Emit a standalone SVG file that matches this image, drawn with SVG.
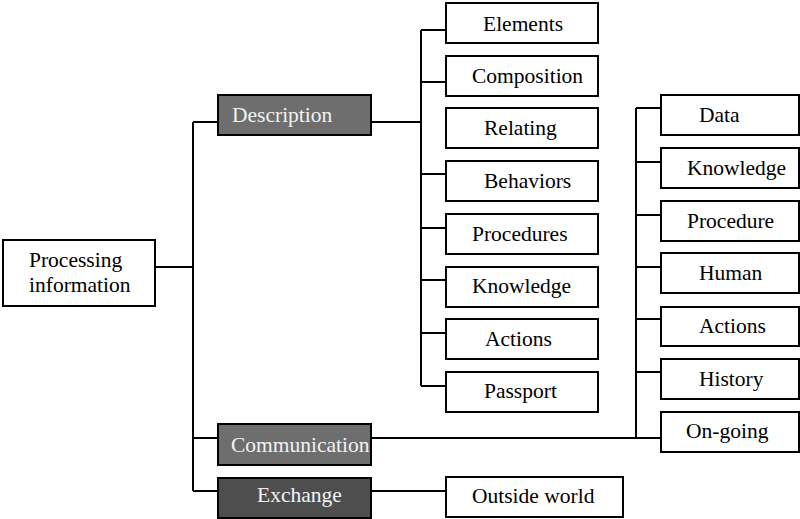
<svg xmlns="http://www.w3.org/2000/svg" width="800" height="519" viewBox="0 0 800 519">
<style>
.b{fill:#fff;stroke:#000;stroke-width:2}
.g1{fill:#6e6e6e;stroke:#000;stroke-width:2}
.g2{fill:#4e4e4e;stroke:#000;stroke-width:2}
text{font-family:'Liberation Serif','Times New Roman',Times,'DejaVu Serif',serif;font-size:21.5px;fill:#000}
.w{fill:#f2f2f2}
.c{fill:none;stroke:#000;stroke-width:2}
</style>
<rect width="800" height="519" fill="#fff"/>
<g id="connectors">
<path class="c" d="M155 267H193M193 122V491M193 122H218M193 438H218M193 491H218"/>
<path class="c" d="M371 122H421M421 30V386M421 30H446M421 82H446M421 174H446M421 228H446M421 280H446M421 333H446M421 386H446"/>
<path class="c" d="M371 438H648M636 108V438M636 108H661M636 162H661M636 215H661M636 267H661M636 319H661M636 372H661M636 438H661"/>
<path class="c" d="M371 491H446"/>
</g>
<g id="processing"><rect class="b" x="3" y="240" width="152" height="66"/><text x="29" y="267">Processing</text><text x="29" y="292">information</text></g>
<g id="description"><rect class="g1" x="218" y="95" width="153" height="40"/><text class="w" x="232" y="122">Description</text></g>
<g id="communication"><rect class="g1" x="218" y="424" width="153" height="41"/><text class="w" x="231" y="452">Communication</text></g>
<g id="exchange"><rect class="g2" x="218" y="478" width="153" height="40"/><text class="w" x="257" y="502">Exchange</text></g>
<g id="elements"><rect class="b" x="446" y="3" width="152" height="40"/><text x="483" y="31">Elements</text></g>
<g id="composition"><rect class="b" x="446" y="56" width="152" height="40"/><text x="472" y="83">Composition</text></g>
<g id="relating"><rect class="b" x="446" y="108" width="152" height="40"/><text x="484" y="135">Relating</text></g>
<g id="behaviors"><rect class="b" x="446" y="161" width="152" height="40"/><text x="484" y="188">Behaviors</text></g>
<g id="procedures"><rect class="b" x="446" y="214" width="152" height="40"/><text x="472" y="241">Procedures</text></g>
<g id="knowledge1"><rect class="b" x="446" y="267" width="152" height="40"/><text x="472" y="293">Knowledge</text></g>
<g id="actions1"><rect class="b" x="446" y="319" width="152" height="40"/><text x="485" y="346">Actions</text></g>
<g id="passport"><rect class="b" x="446" y="372" width="152" height="40"/><text x="484" y="398">Passport</text></g>
<g id="data"><rect class="b" x="661" y="95" width="138" height="40"/><text x="699" y="122">Data</text></g>
<g id="knowledge2"><rect class="b" x="661" y="148" width="138" height="40"/><text x="687" y="175">Knowledge</text></g>
<g id="procedure"><rect class="b" x="661" y="201" width="138" height="40"/><text x="687" y="228">Procedure</text></g>
<g id="human"><rect class="b" x="661" y="253" width="138" height="40"/><text x="699" y="280">Human</text></g>
<g id="actions2"><rect class="b" x="661" y="307" width="138" height="39"/><text x="699" y="333">Actions</text></g>
<g id="history"><rect class="b" x="661" y="359" width="138" height="40"/><text x="699" y="386">History</text></g>
<g id="ongoing"><rect class="b" x="661" y="412" width="138" height="40"/><text x="686" y="438">On-going</text></g>
<g id="outside"><rect class="b" x="446" y="477" width="177" height="40"/><text x="472" y="503">Outside world</text></g>
</svg>
